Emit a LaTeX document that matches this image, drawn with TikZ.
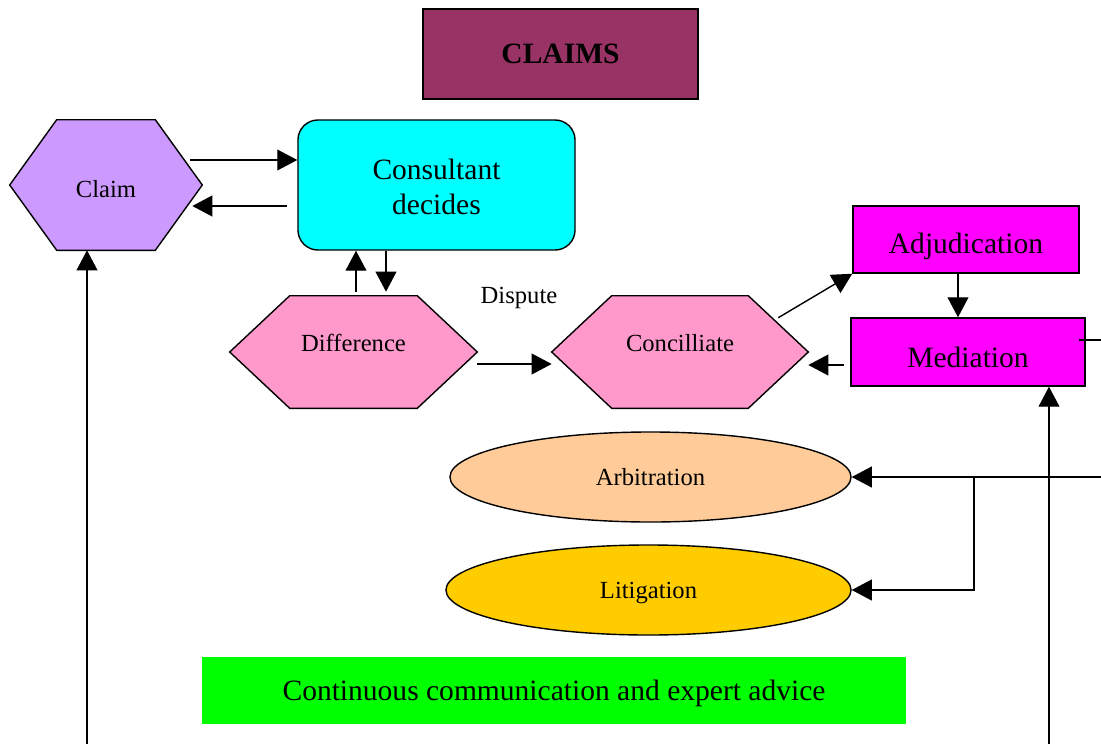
\documentclass[tikz,border=0pt]{standalone}
\usepackage{fontspec}
\setmainfont{Liberation Serif}
\usetikzlibrary{arrows.meta,shapes.geometric,backgrounds}

\definecolor{claimscol}{HTML}{993366}
\definecolor{claimcol}{HTML}{CC99FF}
\definecolor{consultcol}{HTML}{00FFFF}
\definecolor{pinkcol}{HTML}{FF99CC}
\definecolor{magcol}{HTML}{FF00FF}
\definecolor{arbcol}{HTML}{FFCC99}
\definecolor{litcol}{HTML}{FFCC00}
\definecolor{commcol}{HTML}{00FF00}

% push a label down inside its node
\newcommand{\lowertxt}[2]{\raisebox{0pt}[\dimexpr\height+#1\relax]{#2}}

\tikzset{
  arr/.style={-{Triangle[length=0.5cm,width=0.52cm]}, line width=1pt},
  box/.style={draw, line width=1pt, minimum width=#1},
  hexa/.style={draw=none, inner sep=0pt},
  hexline/.style={draw=black, line width=1pt},
  small/.style={font=\fontsize{17.5}{21}\selectfont},
  big/.style={font=\fontsize{21}{25}\selectfont, align=center}
}

\begin{document}
\begin{tikzpicture}[x=0.025cm, y=-0.025cm]
  \useasboundingbox (0,0) rectangle (1101,744);

  % boxes
  \node[box=6.875cm, minimum height=2.25cm, fill=claimscol, font=\fontsize{21}{25}\selectfont\bfseries] (claims) at (560.5,54) {CLAIMS};
  \node[hexa, small, minimum width=4.8cm, minimum height=3.25cm] (claim) at (106,185) {\lowertxt{0.2cm}{Claim}};
  \node[box=6.925cm, minimum height=3.25cm, rounded corners=0.5cm, fill=consultcol, big] (consult) at (436.5,185) {\lowertxt{0.1cm}{Consultant}\\decides};
  \node[hexa, small, minimum width=6.175cm, minimum height=2.8cm] (diff) at (353.5,352) {\raisebox{0.45cm}{Difference}};
  \node[hexa, small, minimum width=6.4cm, minimum height=2.8cm] (conc) at (680,352) {\raisebox{0.45cm}{Concilliate}};
  \node[box=5.65cm, minimum height=1.675cm, fill=magcol, big] (adj) at (966,239.5) {\lowertxt{0.35cm}{Adjudication}};
  \node[box=5.85cm, minimum height=1.7cm, fill=magcol, big] (med) at (968,352) {\lowertxt{0.25cm}{Mediation}};
  \node[ellipse, box=10.025cm, minimum height=2.25cm, fill=arbcol, small] (arb) at (650.5,477) {Arbitration};
  \node[ellipse, box=10.125cm, minimum height=2.25cm, fill=litcol, small] (lit) at (648.5,590) {\lowertxt{0.15cm}{Litigation}};
  \node[minimum width=17.6cm, minimum height=1.675cm, fill=commcol, big] (comm) at (554,690.5) {\lowertxt{0.15cm}{Continuous communication and expert advice}};
  \node[small] (dispute) at (519,298) {Dispute};

  % hexagon outlines
  \begin{scope}[on background layer]
    \draw[hexline, fill=claimcol] (claim.west) -- ([xshift=1.175cm]claim.north west) -- ([xshift=-1.175cm]claim.north east)
      -- (claim.east) -- ([xshift=-1.175cm]claim.south east) -- ([xshift=1.175cm]claim.south west) -- cycle;
    \draw[hexline, fill=pinkcol] (diff.west) -- ([xshift=1.5cm]diff.north west) -- ([xshift=-1.5cm]diff.north east)
      -- (diff.east) -- ([xshift=-1.5cm]diff.south east) -- ([xshift=1.5cm]diff.south west) -- cycle;
    \draw[hexline, fill=pinkcol] (conc.west) -- ([xshift=1.5cm]conc.north west) -- ([xshift=-1.5cm]conc.north east)
      -- (conc.east) -- ([xshift=-1.5cm]conc.south east) -- ([xshift=1.5cm]conc.south west) -- cycle;
  \end{scope}

  % free ends at the border
  \coordinate (bl) at (87,744);
  \coordinate (br) at (1049,744);
  \coordinate (rm) at (1101,340);
  \coordinate (ra) at (1101,477);
  \coordinate (fork) at (974,477);

  % connectors
  \draw[arr] ([xshift=-0.3cm]claim.east |- 0,160) -- (consult.west |- 0,160);
  \draw[arr] ([xshift=-0.25cm]consult.west |- 0,206) -- ([xshift=-0.25cm]claim.east |- 0,206);
  \draw[arr] ([yshift=0.1cm]diff.north -| 356,0) -- (consult.south -| 356,0);
  \draw[arr] (consult.south -| 386,0) -- ([yshift=0.1cm]diff.north -| 386,0);
  \draw[arr] (diff.east |- 0,364) -- (conc.west |- 0,364);
  \draw[arr] ([xshift=-0.75cm,yshift=-0.55cm]conc.north east) -- (adj.south west);
  \draw[arr] (adj.south -| 958,0) -- (med.north -| 958,0);
  \draw[arr] ([xshift=-0.15cm]med.west |- 0,365) -- (conc.east |- 0,365);
  \draw[line width=1pt] ([xshift=-0.175cm]med.east |- rm) -- (rm);
  \draw[arr] (br) -- (med.south -| br);
  \draw[arr] (bl) -- (claim.south -| bl);
  \draw[arr] (ra) -- (arb.east);
  \draw[arr] (fork) |- (lit.east);
\end{tikzpicture}
\end{document}
